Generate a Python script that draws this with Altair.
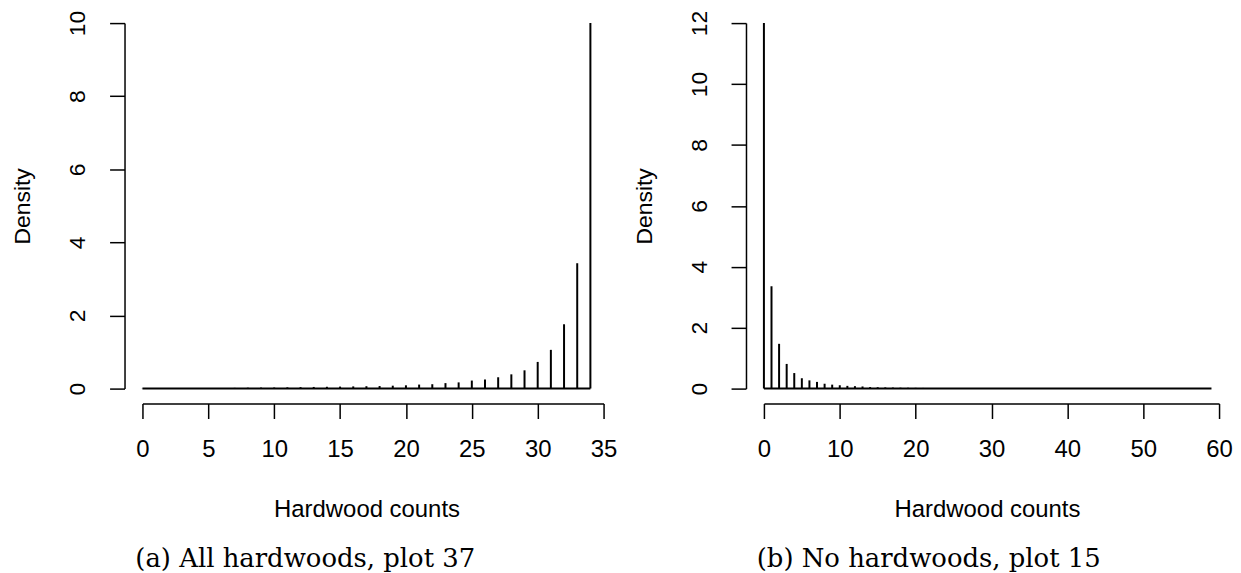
import altair as alt
import pandas as pd

# ---- data ----
all_counts = list(range(35))
all_density = [0.004, 0.005, 0.006, 0.008, 0.010, 0.012, 0.015, 0.020, 0.025, 0.028,
               0.030, 0.035, 0.040, 0.045, 0.050, 0.055, 0.060, 0.065, 0.070, 0.080,
               0.090, 0.110, 0.120, 0.150, 0.170, 0.220, 0.250, 0.310, 0.390, 0.500,
               0.730, 1.060, 1.760, 3.430, 10.000]

none_counts = list(range(60))
none_density = [12.0, 3.36, 1.47, 0.81, 0.51, 0.34, 0.27, 0.22, 0.16, 0.13,
                0.11, 0.09, 0.08, 0.07, 0.05, 0.045, 0.04, 0.035, 0.03, 0.028,
                0.025, 0.022, 0.020, 0.018, 0.016, 0.014, 0.012, 0.011, 0.010, 0.009,
                0.008, 0.007, 0.007, 0.006, 0.006, 0.005, 0.005, 0.004, 0.004, 0.004,
                0.003, 0.003, 0.003, 0.003, 0.002, 0.002, 0.002, 0.002, 0.002, 0.002,
                0.001, 0.001, 0.001, 0.001, 0.001, 0.001, 0.001, 0.001, 0.001, 0.001]

left_xticks = [0, 5, 10, 15, 20, 25, 30, 35]
left_yticks = [0, 2, 4, 6, 8, 10]
right_xticks = [0, 10, 20, 30, 40, 50, 60]
right_yticks = [0, 2, 4, 6, 8, 10, 12]

x_title = "Hardwood counts"
y_title = "Density"
caption_a = "(a) All hardwoods, plot 37"
caption_b = "(b) No hardwoods, plot 15"

SANS = "Liberation Sans"
SERIF = "DejaVu Serif"
FS_Y = 23
FS_X = 24


def panel(counts, dens, xticks, yticks, w, h, caption, dx, title_x):
    df = pd.DataFrame({"k": counts, "d": dens})
    x = alt.X(
        "k:Q",
        scale=alt.Scale(domain=[xticks[0], xticks[-1]], nice=False, zero=False),
        axis=alt.Axis(
            values=xticks, title=x_title, offset=15, tickSize=15,
            labelPadding=19, labelBaseline="top", labelAlign="center",
            labelFontSize=FS_X, titleFontSize=FS_X,
            titlePadding=36, titleX=title_x, labelFlush=False,
            labelOverlap=False, labelBound=False,
        ),
    )
    y = alt.Y(
        "d:Q",
        scale=alt.Scale(domain=[yticks[0], yticks[-1]], nice=False, zero=False),
        axis=alt.Axis(
            values=yticks, title=y_title, offset=18, tickSize=15,
            labelAngle=270, labelAlign="center", labelBaseline="alphabetic",
            labelFontSize=FS_Y, titleFontSize=FS_Y,
            labelPadding=25, titlePadding=32, labelFlush=False,
            labelOverlap=False, labelBound=False,
        ),
    )
    bars = alt.Chart(df).mark_rule(color="black", strokeWidth=2).encode(
        x=x, y=y, y2=alt.datum(0)
    )
    base = alt.Chart(df).mark_line(color="black", strokeWidth=2).encode(
        x="k:Q", y=alt.datum(0)
    )
    return alt.layer(base, bars).properties(
        width=w, height=h,
        title=alt.TitleParams(
            caption, orient="bottom", frame="group", anchor="middle", dx=dx,
            font=SERIF, fontSize=26, fontWeight="normal", color="black",
            offset=25,
        ),
    )


left = panel(all_counts, all_density, left_xticks, left_yticks, 463, 367,
             caption_a, -68, 225)
right = panel(none_counts, none_density, right_xticks, right_yticks, 457, 367,
              caption_b, -63, 224)

chart = (
    alt.hconcat(left, right, spacing=16)
    .properties(padding={"left": 4, "top": 1, "right": 0, "bottom": 0})
    .configure_view(stroke=None)
    .configure_axis(
        grid=False, domainColor="black", domainWidth=1.5, tickColor="black",
        tickWidth=1.5, labelFont=SANS, labelColor="black",
        titleFont=SANS, titleFontWeight="normal", titleColor="black",
    )
)

chart.save("out.html", embed_options={"renderer": "svg", "actions": False})
